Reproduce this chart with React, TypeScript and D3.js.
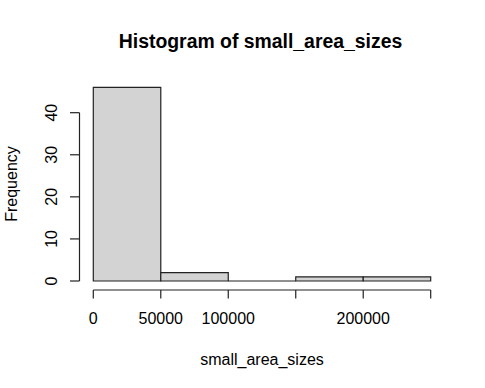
import React from "react";
import * as d3 from "d3";

const binEdges = [0, 50000, 100000, 150000, 200000, 250000];
const counts = [46, 2, 0, 1, 1];
const xTicks = [0, 50000, 100000, 150000, 200000, 250000];
const xTickLabels = ["0", "50000", "100000", "", "200000", ""];
const yTicks = [0, 10, 20, 30, 40];
const title = "Histogram of small_area_sizes";
const xLabel = "small_area_sizes";
const yLabel = "Frequency";

export default function App() {
  const W = 485, H = 388;
  const x = d3.scaleLinear().domain([0, 250000]).range([93.3, 430.7]);
  const y = d3.scaleLinear().domain([0, 40]).range([281, 112.7]);
  const font = "Liberation Sans, Arial, sans-serif";
  const stroke = "#222";
  const bins = counts.map((c, i) => ({ x0: binEdges[i], x1: binEdges[i + 1], c }));
  return (
    <svg width={W} height={H} style={{ position: "absolute", left: 0, top: 0, background: "#fff" }} fontFamily={font}>
      <rect width={W} height={H} fill="#fff" />
      {bins.map((b, i) => (
        <path key={i}
          d={`M${x(b.x0)},${y(0)}V${y(b.c)}H${x(b.x1)}V${y(0)}Z`}
          fill="#D3D3D3" stroke={stroke} strokeWidth={1.2} />
      ))}
      {/* x axis */}
      <line x1={x(0)} x2={x(250000)} y1={290} y2={290} stroke={stroke} strokeWidth={1.2} />
      {xTicks.map((t, i) => (
        <g key={i}>
          <line x1={x(t)} x2={x(t)} y1={290} y2={298.5} stroke={stroke} strokeWidth={1.2} />
          <text x={x(t)} y={324} fontSize={16} textAnchor="middle" fill="#000">{xTickLabels[i]}</text>
        </g>
      ))}
      {/* y axis */}
      <line x1={79.5} x2={79.5} y1={y(0)} y2={y(40)} stroke={stroke} strokeWidth={1.2} />
      {yTicks.map((t, i) => (
        <g key={i}>
          <line x1={70} x2={79.5} y1={y(t)} y2={y(t)} stroke={stroke} strokeWidth={1.2} />
          <text transform={`translate(56.5,${y(t)}) rotate(-90)`} fontSize={16} textAnchor="middle" fill="#000">{t}</text>
        </g>
      ))}
      <text x={260.5} y={48} fontSize={19.4} fontWeight="bold" textAnchor="middle" fill="#000">{title}</text>
      <text x={262} y={365} fontSize={16} textAnchor="middle" fill="#000">{xLabel}</text>
      <text transform={`translate(17,184) rotate(-90)`} fontSize={16} textAnchor="middle" fill="#000">{yLabel}</text>
    </svg>
  );
}
